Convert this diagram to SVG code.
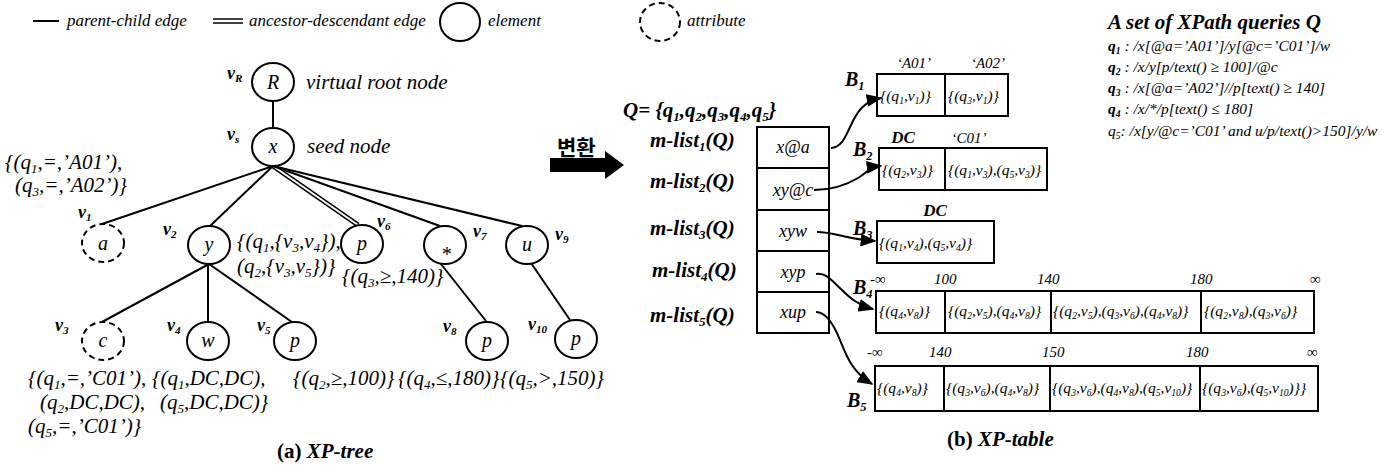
<svg xmlns="http://www.w3.org/2000/svg" width="1397" height="466" viewBox="0 0 1397 466">
<style>
text{font-family:"Liberation Serif","Times New Roman",serif;fill:#000}
.i{font-style:italic}
.bi{font-style:italic;font-weight:bold}
.b{font-weight:bold}
.s{font-size:62%;baseline-shift:-0.3em}
.lg{font-size:17px;font-style:italic}
.an{font-size:21px;font-style:italic}
.lb{font-size:18px;font-style:italic;font-weight:bold}
.nd{font-size:20px;font-style:italic;text-anchor:middle}
.cell{font-size:15.5px;font-style:italic}
.hd{font-size:15px;font-style:italic}
.hdb{font-size:17px;font-style:italic;font-weight:bold;text-anchor:middle}
.ml{font-size:21px;font-style:italic;font-weight:bold}
.bl{font-size:20px;font-style:italic;font-weight:bold}
.q{font-size:15.5px;font-style:italic}
.cap{font-size:21px;font-weight:bold}
.el{fill:#fff;stroke:#000;stroke-width:2}
.at{fill:#fff;stroke:#000;stroke-width:2;stroke-dasharray:6 4}
.ed{stroke:#000;stroke-width:2;fill:none}
.dd{stroke:#000;stroke-width:1.5;fill:none}
.bx{fill:none;stroke:#000;stroke-width:2}
.cn{fill:none;stroke:#000;stroke-width:2;marker-end:url(#ah)}
</style>
<defs>
<marker id="ah" viewBox="0 0 10 8" refX="9" refY="4" markerWidth="8" markerHeight="6.4" orient="auto">
<path d="M0,0 L10,4 L0,8 z" fill="#000"/>
</marker>
</defs>

<!-- legend -->
<g id="legend">
<line class="ed" x1="33" y1="21" x2="59" y2="21"/>
<text class="lg" x="67" y="26">parent-child edge</text>
<line class="dd" x1="213" y1="19" x2="243" y2="19"/>
<line class="dd" x1="213" y1="23" x2="243" y2="23"/>
<text class="lg" x="249" y="26">ancestor-descendant edge</text>
<ellipse class="el" cx="460" cy="22" rx="20" ry="19"/>
<text class="lg" x="488" y="26">element</text>
<ellipse class="at" cx="660" cy="22" rx="20" ry="19"/>
<text class="lg" x="687" y="26">attribute</text>
</g>

<!-- XP-tree edges -->
<g id="tree-edges">
<line class="ed" x1="273" y1="101" x2="273" y2="128"/>
<line class="ed" x1="273" y1="166" x2="102" y2="224"/>
<line class="ed" x1="273" y1="166" x2="210" y2="226"/>
<line class="dd" x1="272" y1="167.4" x2="357" y2="226.4"/>
<line class="dd" x1="274" y1="164.6" x2="359" y2="223.6"/>
<line class="ed" x1="273" y1="166" x2="440" y2="226"/>
<line class="ed" x1="273" y1="166" x2="522" y2="226"/>
<line class="ed" x1="209" y1="264" x2="102" y2="322"/>
<line class="ed" x1="208" y1="264" x2="208" y2="322"/>
<line class="ed" x1="209" y1="264" x2="292" y2="322"/>
<line class="ed" x1="441" y1="264" x2="486" y2="321"/>
<line class="ed" x1="531" y1="263" x2="570" y2="320"/>
</g>

<!-- XP-tree nodes -->
<g id="vR">
<ellipse class="el" cx="273" cy="82" rx="21" ry="19"/>
<text class="nd" x="273" y="89">R</text>
<text class="lb" x="227" y="79">v<tspan class="s">R</tspan></text>
<text class="an" x="306" y="89">virtual root node</text>
</g>
<g id="vs">
<ellipse class="el" cx="273" cy="147" rx="21" ry="19"/>
<text class="nd" x="273" y="153">x</text>
<text class="lb" x="227" y="140">v<tspan class="s">s</tspan></text>
<text class="an" x="307" y="153">seed node</text>
</g>
<g id="v1">
<ellipse class="at" cx="103" cy="243" rx="21" ry="19"/>
<text class="nd" x="103" y="250">a</text>
<text class="lb" x="78" y="218">v<tspan class="s">1</tspan></text>
<text class="an" x="5" y="169">{(q<tspan class="s">1</tspan>,=,’A01’),</text>
<text class="an" x="15" y="192">(q<tspan class="s">3</tspan>,=,’A02’)}</text>
</g>
<g id="v2">
<ellipse class="el" cx="209" cy="245" rx="21" ry="19"/>
<text class="nd" x="209" y="251">y</text>
<text class="lb" x="163" y="235">v<tspan class="s">2</tspan></text>
<text class="an" x="237" y="248">{(q<tspan class="s">1</tspan>,{v<tspan class="s">3</tspan>,v<tspan class="s">4</tspan>}),</text>
<text class="an" x="237" y="273">(q<tspan class="s">2</tspan>,{v<tspan class="s">3</tspan>,v<tspan class="s">5</tspan>})}</text>
</g>
<g id="v6">
<ellipse class="el" cx="362" cy="244" rx="21" ry="19"/>
<text class="nd" x="362" y="250">p</text>
<text class="lb" x="377" y="227">v<tspan class="s">6</tspan></text>
<text class="an" x="342" y="283">{(q<tspan class="s">3</tspan>,≥,140)}</text>
</g>
<g id="v7">
<ellipse class="el" cx="445" cy="245" rx="21" ry="19"/>
<text class="nd" x="446" y="261">*</text>
<text class="lb" x="473" y="237">v<tspan class="s">7</tspan></text>
</g>
<g id="v9">
<ellipse class="el" cx="527" cy="245" rx="21" ry="19"/>
<text class="nd" x="527" y="251">u</text>
<text class="lb" x="555" y="240">v<tspan class="s">9</tspan></text>
</g>
<g id="v3">
<ellipse class="at" cx="103" cy="341" rx="21" ry="19"/>
<text class="nd" x="103" y="347">c</text>
<text class="lb" x="55" y="331">v<tspan class="s">3</tspan></text>
<text class="an" x="28" y="385">{(q<tspan class="s">1</tspan>,=,’C01’),</text>
<text class="an" x="40" y="409">(q<tspan class="s">2</tspan>,DC,DC),</text>
<text class="an" x="28" y="433">(q<tspan class="s">5</tspan>,=,’C01’)}</text>
</g>
<g id="v4">
<ellipse class="el" cx="208" cy="341" rx="21" ry="19"/>
<text class="nd" x="208" y="347">w</text>
<text class="lb" x="167" y="331">v<tspan class="s">4</tspan></text>
<text class="an" x="152" y="385">{(q<tspan class="s">1</tspan>,DC,DC),</text>
<text class="an" x="160" y="409">(q<tspan class="s">5</tspan>,DC,DC)}</text>
</g>
<g id="v5">
<ellipse class="el" cx="295" cy="341" rx="21" ry="19"/>
<text class="nd" x="295" y="347">p</text>
<text class="lb" x="257" y="331">v<tspan class="s">5</tspan></text>
<text class="an" x="293" y="385">{(q<tspan class="s">2</tspan>,≥,100)}</text>
</g>
<g id="v8">
<ellipse class="el" cx="487" cy="341" rx="21" ry="19"/>
<text class="nd" x="487" y="347">p</text>
<text class="lb" x="443" y="332">v<tspan class="s">8</tspan></text>
<text class="an" x="398" y="385">{(q<tspan class="s">4</tspan>,≤,180)}</text>
</g>
<g id="v10">
<ellipse class="el" cx="576" cy="339" rx="21" ry="19"/>
<text class="nd" x="576" y="345">p</text>
<text class="lb" x="528" y="330">v<tspan class="s">10</tspan></text>
<text class="an" x="500" y="385">{(q<tspan class="s">5</tspan>,&gt;,150)}</text>
</g>
<text class="cap" x="277" y="458">(a) <tspan class="i">XP-tree</tspan></text>

<!-- transform arrow -->
<g id="transform">
<text x="557" y="155" style="font-family:'Noto Sans CJK KR',sans-serif;font-size:21px;font-weight:bold">변환</text>
<polygon points="550,158 605,158 605,151 624,165 605,179 605,172 550,172" fill="#000"/>
</g>

<!-- m-list column -->
<g id="mlist">
<text class="ml" x="623" y="117">Q= {q<tspan class="s">1</tspan>,q<tspan class="s">2</tspan>,q<tspan class="s">3</tspan>,q<tspan class="s">4</tspan>,q<tspan class="s">5</tspan>}</text>
<text class="ml" x="650" y="147">m-list<tspan class="s">1</tspan>(Q)</text>
<text class="ml" x="650" y="188">m-list<tspan class="s">2</tspan>(Q)</text>
<text class="ml" x="650" y="235">m-list<tspan class="s">3</tspan>(Q)</text>
<text class="ml" x="652" y="277">m-list<tspan class="s">4</tspan>(Q)</text>
<text class="ml" x="650" y="322">m-list<tspan class="s">5</tspan>(Q)</text>
<rect class="bx" x="757" y="127" width="72" height="206"/>
<line class="bx" x1="757" y1="168" x2="829" y2="168"/>
<line class="bx" x1="757" y1="210" x2="829" y2="210"/>
<line class="bx" x1="757" y1="251" x2="829" y2="251"/>
<line class="bx" x1="757" y1="292" x2="829" y2="292"/>
<text class="i" x="793" y="153" font-size="18" text-anchor="middle">x@a</text>
<text class="i" x="793" y="196" font-size="18" text-anchor="middle">xy@c</text>
<text class="i" x="793" y="237" font-size="18" text-anchor="middle">xyw</text>
<text class="i" x="793" y="278" font-size="18" text-anchor="middle">xyp</text>
<text class="i" x="793" y="318" font-size="18" text-anchor="middle">xup</text>
</g>

<!-- connectors from m-list entries to buckets -->
<g id="connectors">
<path class="cn" d="M831,148 C842,148 846,135 851,125 C857,112 864,101 881,98"/>
<path class="cn" d="M814,190 C835,190 848,184 858,178 C866,173 870,167 881,166"/>
<path class="cn" d="M817,232 C835,232 845,239 875,241"/>
<path class="cn" d="M816,274 C826,272 832,281 842,290 C850,298 858,305 873,309"/>
<path class="cn" d="M816,312 C826,312 834,325 840,340 C846,355 852,372 872,384"/>
</g>

<!-- buckets -->
<g id="B1">
<text class="bl" x="845" y="86">B<tspan class="s">1</tspan></text>
<text class="hd" x="914" y="68" text-anchor="middle">‘A01’</text>
<text class="hd" x="988" y="68" text-anchor="middle">‘A02’</text>
<rect class="bx" x="877" y="74" width="131" height="42"/>
<line class="bx" x1="945" y1="74" x2="945" y2="116"/>
<text class="cell" x="880" y="101">{(q<tspan class="s">1</tspan>,v<tspan class="s">1</tspan>)}</text>
<text class="cell" x="948" y="101">{(q<tspan class="s">3</tspan>,v<tspan class="s">1</tspan>)}</text>
</g>
<g id="B2">
<text class="bl" x="853" y="156">B<tspan class="s">2</tspan></text>
<text class="hdb" x="903" y="143">DC</text>
<text class="hd" x="969" y="143" text-anchor="middle">‘C01’</text>
<rect class="bx" x="879" y="148" width="168" height="42"/>
<line class="bx" x1="945" y1="148" x2="945" y2="190"/>
<text class="cell" x="882" y="175">{(q<tspan class="s">2</tspan>,v<tspan class="s">3</tspan>)}</text>
<text class="cell" x="948" y="175">{(q<tspan class="s">1</tspan>,v<tspan class="s">3</tspan>),(q<tspan class="s">5</tspan>,v<tspan class="s">3</tspan>)}</text>
</g>
<g id="B3">
<text class="bl" x="853" y="235">B<tspan class="s">3</tspan></text>
<text class="hdb" x="935" y="216">DC</text>
<rect class="bx" x="877" y="221" width="117" height="42"/>
<text class="cell" x="879" y="248">{(q<tspan class="s">1</tspan>,v<tspan class="s">4</tspan>),(q<tspan class="s">5</tspan>,v<tspan class="s">4</tspan>)}</text>
</g>
<g id="B4">
<text class="bl" x="853" y="294">B<tspan class="s">4</tspan></text>
<text class="hd" x="870" y="284">-∞</text>
<text class="hd" x="934" y="284">100</text>
<text class="hd" x="1037" y="284">140</text>
<text class="hd" x="1190" y="284">180</text>
<text class="hd" x="1310" y="284">∞</text>
<rect class="bx" x="876" y="291" width="438" height="42"/>
<line class="bx" x1="945" y1="291" x2="945" y2="333"/>
<line class="bx" x1="1051" y1="291" x2="1051" y2="333"/>
<line class="bx" x1="1201" y1="291" x2="1201" y2="333"/>
<text class="cell" x="879" y="316">{(q<tspan class="s">4</tspan>,v<tspan class="s">8</tspan>)}</text>
<text class="cell" x="948" y="316">{(q<tspan class="s">2</tspan>,v<tspan class="s">5</tspan>),(q<tspan class="s">4</tspan>,v<tspan class="s">8</tspan>)}</text>
<text class="cell" x="1053" y="316">{(q<tspan class="s">2</tspan>,v<tspan class="s">5</tspan>),(q<tspan class="s">3</tspan>,v<tspan class="s">6</tspan>),(q<tspan class="s">4</tspan>,v<tspan class="s">8</tspan>)}</text>
<text class="cell" x="1204" y="316">{(q<tspan class="s">2</tspan>,v<tspan class="s">8</tspan>),(q<tspan class="s">3</tspan>,v<tspan class="s">6</tspan>)}</text>
</g>
<g id="B5">
<text class="bl" x="847" y="407">B<tspan class="s">5</tspan></text>
<text class="hd" x="867" y="357">-∞</text>
<text class="hd" x="929" y="357">140</text>
<text class="hd" x="1042" y="357">150</text>
<text class="hd" x="1186" y="357">180</text>
<text class="hd" x="1307" y="357">∞</text>
<rect class="bx" x="875" y="366" width="443" height="45"/>
<line class="bx" x1="944" y1="366" x2="944" y2="411"/>
<line class="bx" x1="1050" y1="366" x2="1050" y2="411"/>
<line class="bx" x1="1200" y1="366" x2="1200" y2="411"/>
<text class="cell" x="877" y="393">{(q<tspan class="s">4</tspan>,v<tspan class="s">8</tspan>)}</text>
<text class="cell" x="946" y="393">{(q<tspan class="s">3</tspan>,v<tspan class="s">6</tspan>),(q<tspan class="s">4</tspan>,v<tspan class="s">8</tspan>)}</text>
<text class="cell" x="1052" y="393">{(q<tspan class="s">3</tspan>,v<tspan class="s">6</tspan>),(q<tspan class="s">4</tspan>,v<tspan class="s">8</tspan>),(q<tspan class="s">5</tspan>,v<tspan class="s">10</tspan>)}</text>
<text class="cell" x="1202" y="393">{(q<tspan class="s">3</tspan>,v<tspan class="s">6</tspan>),(q<tspan class="s">5</tspan>,v<tspan class="s">10</tspan>)}}</text>
</g>
<text class="cap" x="947" y="446">(b) <tspan class="i">XP-table</tspan></text>

<!-- query set -->
<g id="queries">
<text class="bi" x="1108" y="29" font-size="21">A set of XPath queries Q</text>
<text class="q" x="1108" y="51"><tspan class="b">q<tspan class="s">1</tspan></tspan> : /x[@a=’A01’]/y[@c=’C01’]/w</text>
<text class="q" x="1108" y="72"><tspan class="b">q<tspan class="s">2</tspan></tspan> : /x/y[p/text() ≥ 100]/@c</text>
<text class="q" x="1108" y="93"><tspan class="b">q<tspan class="s">3</tspan></tspan> : /x[@a=’A02’]//p[text() ≥ 140]</text>
<text class="q" x="1108" y="114"><tspan class="b">q<tspan class="s">4</tspan></tspan> : /x/*/p[text() ≤ 180]</text>
<text class="q" x="1108" y="136">q<tspan class="s">5</tspan>: /x[y/@c=’C01’ and u/p/text()&gt;150]/y/w</text>
</g>
</svg>
